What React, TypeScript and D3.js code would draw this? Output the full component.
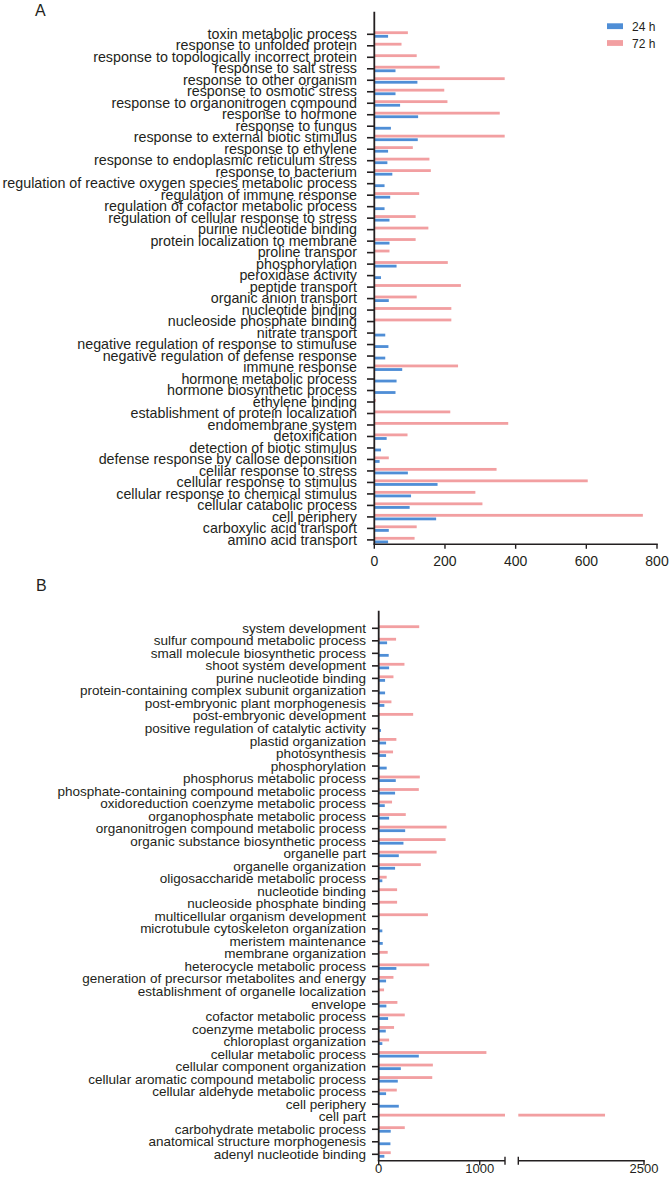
import React from "react";
import * as d3 from "d3";

const categoriesA = [
  "toxin metabolic process",
  "response to unfolded protein",
  "response to topologically incorrect protein",
  "response to salt stress",
  "response to other organism",
  "response to osmotic stress",
  "response to organonitrogen compound",
  "response to hormone",
  "response to fungus",
  "response to external biotic stimulus",
  "response to ethylene",
  "response to endoplasmic reticulum stress",
  "response to bacterium",
  "regulation of reactive oxygen species metabolic process",
  "regulation of immune response",
  "regulation of cofactor metabolic process",
  "regulation of cellular response to stress",
  "purine nucleotide binding",
  "protein localization to membrane",
  "proline transpor",
  "phosphorylation",
  "peroxidase activity",
  "peptide transport",
  "organic anion transport",
  "nucleotide binding",
  "nucleoside phosphate binding",
  "nitrate transport",
  "negative regulation of response to stimuluse",
  "negative regulation of defense response",
  "immune response",
  "hormone metabolic process",
  "hormone biosynthetic process",
  "ethylene binding",
  "establishment of protein localization",
  "endomembrane system",
  "detoxification",
  "detection of biotic stimulus",
  "defense response by callose deponsition",
  "celilar response to stress",
  "cellular response to stimulus",
  "cellular response to chemical stimulus",
  "cellular catabolic process",
  "cell periphery",
  "carboxylic acid transport",
  "amino acid transport",
];
const values24A = [
  39, 0, 0, 60, 122, 60, 73, 124, 47, 123, 39, 37, 51, 29, 45, 29, 43, 0, 43, 0, 63,
  19, 0, 41, 0, 0, 31, 40, 31, 79, 63, 60, 0, 0, 0, 35, 19, 15, 95, 179, 104, 100,
  175, 41, 39,
];
const values72A = [
  95, 77, 120, 185, 369, 198, 207, 355, 0, 369, 109, 156, 160, 0, 127, 0, 117, 153,
  117, 43, 208, 0, 245, 120, 218, 218, 0, 0, 0, 237, 0, 0, 4, 215, 379, 94, 0, 41,
  346, 604, 286, 306, 760, 120, 114,
];
const ticksA = [0, 200, 400, 600, 800];

const categoriesB = [
  "system development",
  "sulfur compound metabolic process",
  "small molecule biosynthetic process",
  "shoot system development",
  "purine nucleotide binding",
  "protein-containing complex subunit organization",
  "post-embryonic plant morphogenesis",
  "post-embryonic development",
  "positive regulation of catalytic activity",
  "plastid organization",
  "photosynthesis",
  "phosphorylation",
  "phosphorus metabolic process",
  "phosphate-containing compound metabolic process",
  "oxidoreduction coenzyme metabolic process",
  "organophosphate metabolic process",
  "organonitrogen compound metabolic process",
  "organic substance biosynthetic process",
  "organelle part",
  "organelle organization",
  "oligosaccharide metabolic process",
  "nucleotide binding",
  "nucleoside phosphate binding",
  "multicellular organism development",
  "microtubule cytoskeleton organization",
  "meristem maintenance",
  "membrane organization",
  "heterocycle metabolic process",
  "generation of precursor metabolites and energy",
  "establishment of organelle localization",
  "envelope",
  "cofactor metabolic process",
  "coenzyme metabolic process",
  "chloroplast organization",
  "cellular metabolic process",
  "cellular component organization",
  "cellular aromatic compound metabolic process",
  "cellular aldehyde metabolic process",
  "cell periphery",
  "cell part",
  "carbohydrate metabolic process",
  "anatomical structure morphogenesis",
  "adenyl nucleotide binding",
];
const values24B = [
  0, 83, 99, 103, 63, 63, 56, 0, 23, 73, 73, 79, 169, 162, 60, 103, 262, 245, 199,
  162, 36, 0, 0, 0, 36, 40, 0, 175, 73, 0, 76, 93, 70, 36, 397, 219, 189, 73, 199, 0,
  119, 116, 56,
];
const values72B = [
  401, 172, 0, 255, 146, 0, 126, 341, 0, 175, 142, 0, 407, 397, 132, 268, 672, 662,
  573, 417, 79, 182, 182, 487, 0, 0, 89, 500, 146, 53, 185, 258, 152, 103, 1066, 536,
  530, 179, 0, 2190, 258, 0, 119,
];
const ticksB = [0, 1000, 2500];
const breakB = [1250, 1500];
const maxB = 2500;

const series = [
  { name: "24 h", color: "#4f8ed6" },
  { name: "72 h", color: "#f29fa1" },
];

const AX = "#231f20";
const FONT = "'Liberation Sans', Arial, Helvetica, sans-serif";

function PanelA() {
  const x = d3.scaleLinear().domain([0, 800]).range([374.3, 657]);
  const y = d3.scalePoint<string>().domain(categoriesA).range([34.3, 539.9]);
  const axisY = 544.3;
  return (
    <g>
      <text x={35} y={15.5} fontSize={16} fontFamily={FONT} fill={AX}>A</text>
      {categoriesA.map((c, i) => {
        const cy = y(c)!;
        return (
          <g key={c}>
            <text x={357} y={cy + 4.7} textAnchor="end" fontSize={14.3} fontFamily={FONT} fill={AX}>{c}</text>
            <line x1={367} x2={x(0)} y1={cy} y2={cy} stroke={AX} strokeWidth={1.6} />
            {values72A[i] > 0 && (
              <rect x={x(0)} y={cy - 3} width={x(values72A[i]) - x(0)} height={2.8} fill={series[1].color} />
            )}
            {values24A[i] > 0 && (
              <rect x={x(0)} y={cy + 0.6} width={x(values24A[i]) - x(0)} height={2.8} fill={series[0].color} />
            )}
          </g>
        );
      })}
      <line x1={x(0)} x2={x(0)} y1={11.7} y2={axisY} stroke={AX} strokeWidth={1.8} />
      <line x1={x(0) - 0.9} x2={x(800) + 0.8} y1={axisY} y2={axisY} stroke={AX} strokeWidth={1.6} />
      {ticksA.map((t) => (
        <g key={t}>
          <line x1={x(t)} x2={x(t)} y1={axisY} y2={axisY + 4.5} stroke={AX} strokeWidth={1.4} />
          <text x={x(t)} y={566} textAnchor="middle" fontSize={14} fontFamily={FONT} fill={AX}>{t}</text>
        </g>
      ))}
      {series.map((s, i) => (
        <g key={s.name}>
          <rect x={607} y={23.3 + i * 16.8} width={16} height={5.8} fill={s.color} />
          <text x={632} y={31 + i * 16.5} fontSize={12} fontFamily={FONT} fill={AX}>{s.name}</text>
        </g>
      ))}
    </g>
  );
}

function PanelB() {
  const x1 = d3.scaleLinear().domain([0, breakB[0]]).range([378.7, 505]);
  const x2 = d3.scaleLinear().domain([breakB[1], maxB]).range([518.3, 644]);
  const y = d3.scalePoint<string>().domain(categoriesB).range([628.3, 1154.3]);
  const axisY = 1160.7;
  const x0 = x1(0);
  const xv = (v: number) => (v <= breakB[0] ? x1(v) : x2(v));
  const bar = (v: number, yy: number, color: string) => {
    if (v <= 0) return null;
    if (v <= breakB[0]) return <rect x={x0} y={yy} width={x1(v) - x0} height={2.8} fill={color} />;
    return (
      <g>
        <rect x={x0} y={yy} width={x1(breakB[0]) - x0} height={2.8} fill={color} />
        <rect x={x2(breakB[1])} y={yy} width={x2(Math.min(v, maxB)) - x2(breakB[1])} height={2.8} fill={color} />
      </g>
    );
  };
  return (
    <g>
      <text x={36} y={591} fontSize={16} fontFamily={FONT} fill={AX}>B</text>
      {categoriesB.map((c, i) => {
        const cy = y(c)!;
        return (
          <g key={c}>
            <text x={366} y={cy + 4.5} textAnchor="end" fontSize={13.5} fontFamily={FONT} fill={AX}>{c}</text>
            <line x1={372} x2={x0} y1={cy} y2={cy} stroke={AX} strokeWidth={1.6} />
            {bar(values72B[i], cy - 3, series[1].color)}
            {bar(values24B[i], cy + 0.6, series[0].color)}
          </g>
        );
      })}
      <line x1={x0} x2={x0} y1={610.7} y2={axisY} stroke={AX} strokeWidth={1.8} />
      <line x1={x0 - 0.9} x2={x1(breakB[0])} y1={axisY} y2={axisY} stroke={AX} strokeWidth={1.6} />
      <line x1={x2(breakB[1])} x2={x2(maxB) + 0.8} y1={axisY} y2={axisY} stroke={AX} strokeWidth={1.6} />
      {[x1(breakB[0]), x2(breakB[1])].map((bx, i) => (
        <line key={i} x1={bx} x2={bx} y1={axisY - 4} y2={axisY + 4} stroke={AX} strokeWidth={1.4} />
      ))}
      {ticksB.map((t) => (
        <g key={t}>
          <line x1={xv(t)} x2={xv(t)} y1={axisY} y2={axisY + 4.5} stroke={AX} strokeWidth={1.4} />
          <text x={xv(t)} y={1173} textAnchor="middle" fontSize={13} fontFamily={FONT} fill={AX}>{t}</text>
        </g>
      ))}
    </g>
  );
}

export default function App() {
  return (
    <svg
      width={670}
      height={1182}
      viewBox="0 0 670 1182"
      style={{ position: "absolute", left: 0, top: 0, background: "#ffffff" }}
    >
      <rect width={670} height={1182} fill="#ffffff" />
      <PanelA />
      <PanelB />
    </svg>
  );
}
